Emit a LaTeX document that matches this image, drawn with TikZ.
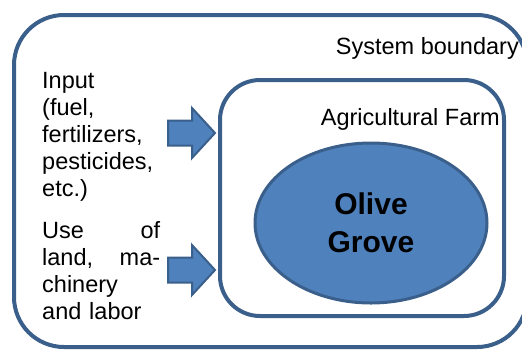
\documentclass[tikz,border=0pt]{standalone}
\usepackage{fontspec}
\setmainfont{Liberation Sans}
\usepackage{tikz}
\usetikzlibrary{%
  shapes.geometric,% wg. ellipse
  positioning%
}

\definecolor{boxline}{RGB}{58,95,139}
\definecolor{boxfill}{RGB}{79,129,189}

\tikzset{
  boundary/.style={draw=boxline, line width=4pt, rounded corners=#1},
  blockarrow/.style={draw=boxline, fill=boxfill, line width=2pt, line join=miter},
  label/.style={inner sep=0pt, font=\fontsize{23.5}{27}\selectfont},
  grove/.style={ellipse, draw=boxline, fill=boxfill, line width=3pt,
                minimum width=232pt, minimum height=160pt, inner sep=0pt,
                align=center, font=\fontsize{30}{38}\selectfont\bfseries}
}

\begin{document}
\begin{tikzpicture}[x=1pt,y=-1pt]
\useasboundingbox (0,0) rectangle (522,349);
\clip (0,0) rectangle (522,349);
% outer and inner boundary
\draw[boundary=50pt] (14,15) rectangle (527,347);
\draw[boundary=40pt] (220,80) rectangle (504,316);
% texts
\node[label, anchor=base east] (sysb) at (519,54) {System boundary};
\node[label, anchor=base east] (farm) at (500,125) {Agricultural Farm};
\node[label, anchor=base west, align=left] (input) at (42,196)
     {Input\\(fuel,\\fertilizers,\\pesticides,\\etc.)};
\node[label, anchor=base west, text width=118pt] (use) at (42,238)
     {Use \hfill of\\land, \hfill ma-\\chinery\\and labor};
\node[grove] (olive) at (371,223) {Olive\\Grove};
% block arrows
\foreach \y in {133,270}
  \draw[blockarrow] (168,\y) ++(0,-12.5) -- ++(24,0) -- ++(0,-12.5)
       -- ++(23,25) -- ++(-23,25) -- ++(0,-12.5) -- ++(-24,0) -- cycle;
\end{tikzpicture}
\end{document}
